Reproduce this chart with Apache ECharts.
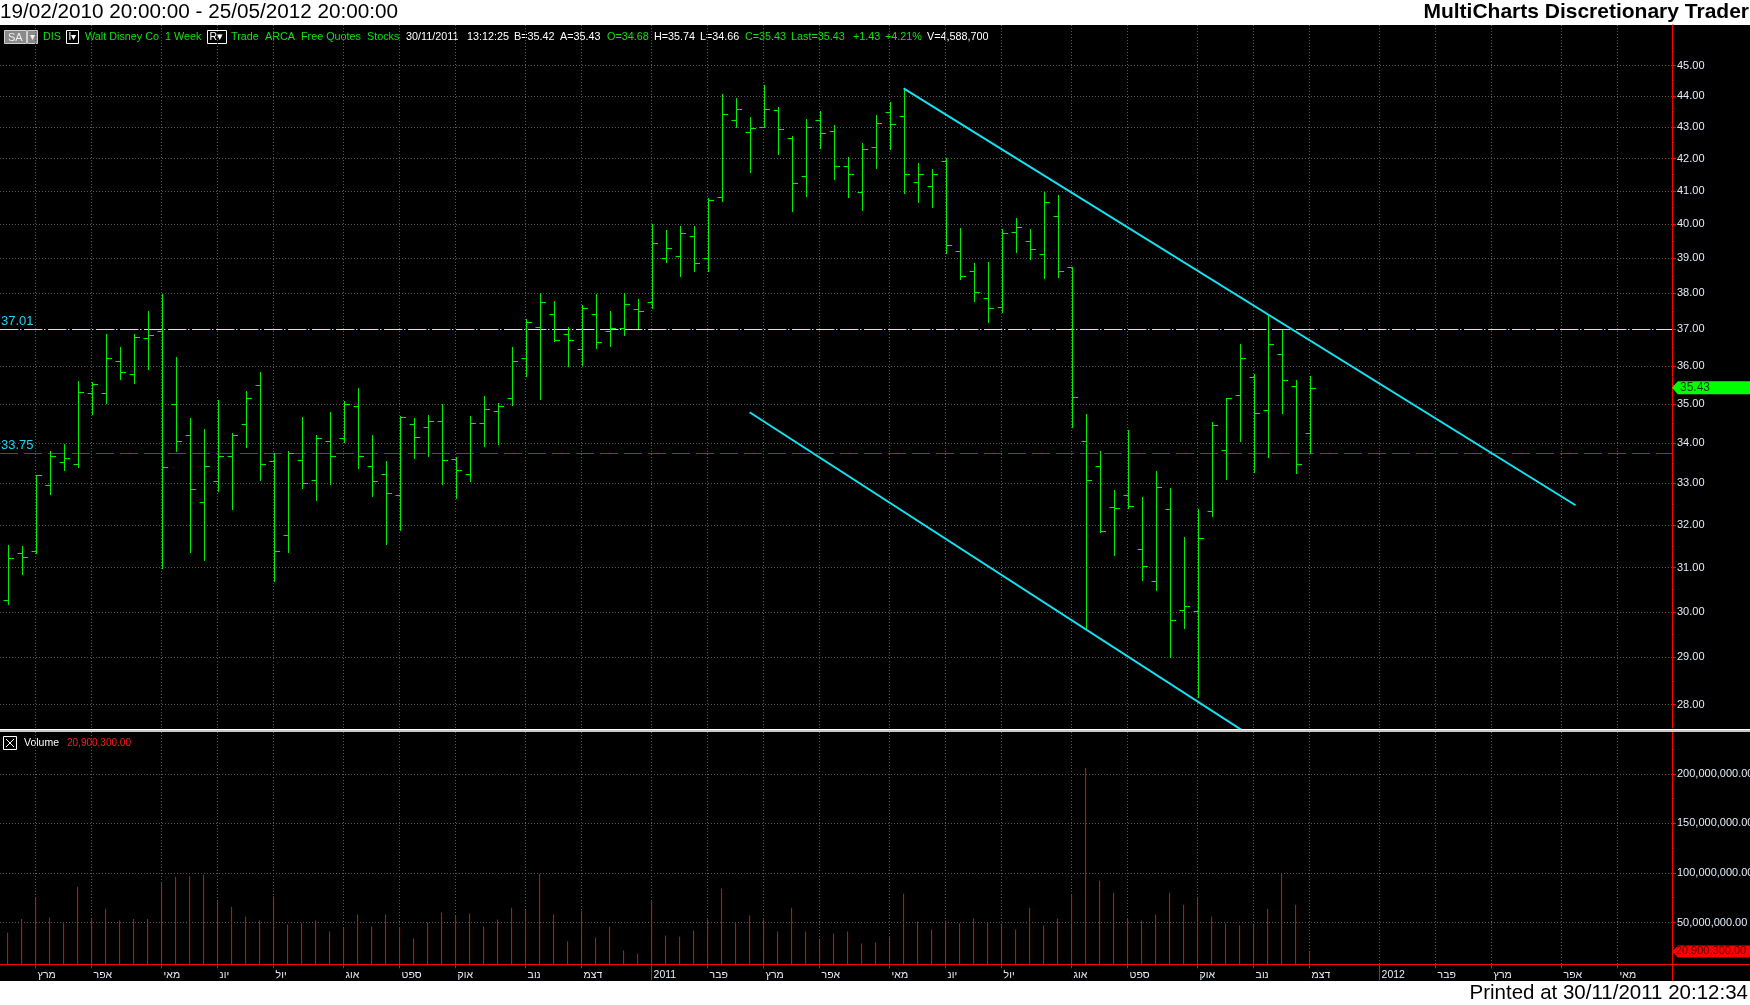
<!DOCTYPE html>
<html>
<head>
<meta charset="utf-8">
<script src="https://cdn.jsdelivr.net/npm/echarts@6/dist/echarts.min.js"></script>
<style>
html,body{margin:0;padding:0;background:#fff;}
#c{width:1750px;height:1005px;}
</style>
</head>
<body>
<div id="c"></div>
<script>
// ---------------- DATA ----------------
const weeks = ['2010-02-19','2010-02-26','2010-03-05','2010-03-12','2010-03-19','2010-03-26','2010-04-02','2010-04-09','2010-04-16','2010-04-23',
'2010-04-30','2010-05-07','2010-05-14','2010-05-21','2010-05-28','2010-06-04','2010-06-11','2010-06-18','2010-06-25','2010-07-02',
'2010-07-09','2010-07-16','2010-07-23','2010-07-30','2010-08-06','2010-08-13','2010-08-20','2010-08-27','2010-09-03','2010-09-10',
'2010-09-17','2010-09-24','2010-10-01','2010-10-08','2010-10-15','2010-10-22','2010-10-29','2010-11-05','2010-11-12','2010-11-19',
'2010-11-26','2010-12-03','2010-12-10','2010-12-17','2010-12-24','2010-12-31','2011-01-07','2011-01-14','2011-01-21','2011-01-28',
'2011-02-04','2011-02-11','2011-02-18','2011-02-25','2011-03-04','2011-03-11','2011-03-18','2011-03-25','2011-04-01','2011-04-08',
'2011-04-15','2011-04-22','2011-04-29','2011-05-06','2011-05-13','2011-05-20','2011-05-27','2011-06-03','2011-06-10','2011-06-17',
'2011-06-24','2011-07-01','2011-07-08','2011-07-15','2011-07-22','2011-07-29','2011-08-05','2011-08-12','2011-08-19','2011-08-26',
'2011-09-02','2011-09-09','2011-09-16','2011-09-23','2011-09-30','2011-10-07','2011-10-14','2011-10-21','2011-10-28','2011-11-04',
'2011-11-11','2011-11-18','2011-11-25','2011-12-02'];

const opens  = [30.26,31.33,31.38,32.95,33.52,33.47,35.28,35.28,36.13,35.78,36.75,36.95,35.00,34.20,32.54,33.05,33.69,34.48,35.50,33.56,
31.76,33.58,33.08,34.05,34.12,34.94,33.42,33.22,32.72,34.48,34.40,34.56,33.60,33.22,34.51,34.81,35.15,36.21,37.06,37.41,
36.86,36.45,37.41,36.95,37.03,37.55,37.75,39.00,39.06,39.64,39.02,40.82,43.21,42.83,43.00,43.55,42.64,41.45,43.21,42.88,
41.76,40.96,42.36,43.47,43.34,41.27,41.14,41.93,39.21,38.63,37.86,37.61,39.76,39.50,39.13,40.24,38.74,34.05,33.42,32.42,
32.72,31.44,30.69,32.37,30.05,30.02,32.34,33.82,35.23,35.70,34.85,36.32,35.48,34.25];
const highs  = [31.52,31.50,33.20,33.80,33.97,35.61,35.57,36.87,36.52,36.86,37.51,37.98,36.25,34.64,34.36,35.11,34.26,35.34,35.85,33.75,
33.80,34.67,34.21,34.80,35.09,35.42,34.21,33.56,34.69,34.64,34.72,35.00,33.66,34.69,35.21,35.02,36.52,37.28,38.01,37.79,
37.06,37.67,37.98,37.51,38.01,37.84,40.01,39.83,39.95,39.95,40.79,44.06,43.93,43.32,44.36,43.63,42.70,43.24,43.50,43.05,
42.04,42.48,43.38,43.80,44.25,41.85,41.67,42.01,39.89,38.88,38.90,39.85,40.19,39.86,40.97,40.89,38.74,34.75,33.80,32.84,
34.33,32.67,33.31,32.88,31.71,32.38,34.54,35.16,36.60,35.79,37.39,36.99,35.63,35.74];
const lows   = [30.17,30.85,31.33,32.75,33.34,33.41,34.75,35.04,35.67,35.56,35.93,30.98,33.81,31.37,31.18,32.82,32.39,33.91,33.09,30.70,
31.37,32.90,32.60,32.99,34.03,33.39,32.70,31.54,31.89,33.64,33.69,32.99,32.65,33.07,33.94,33.99,34.98,35.74,35.14,36.69,
36.00,36.02,36.50,36.55,36.84,37.04,37.59,38.90,38.50,38.65,38.65,40.70,42.99,41.59,43.00,42.15,40.41,40.86,42.33,41.38,
40.83,40.44,41.72,42.30,40.93,40.68,40.53,39.17,38.42,37.78,37.19,37.47,39.20,38.97,38.44,38.47,34.40,29.63,31.83,31.30,
32.40,30.71,30.49,29.01,29.65,28.17,32.22,33.12,34.06,33.28,33.65,34.78,33.26,33.75];
const closes = [31.22,31.24,33.20,33.67,33.62,35.31,35.54,36.21,35.84,36.78,36.84,33.40,34.05,32.86,33.42,33.67,34.22,35.15,33.47,31.38,
33.76,33.02,34.12,33.67,35.00,33.67,33.05,32.76,34.66,34.15,34.56,33.57,33.32,34.51,34.87,34.96,36.13,37.19,37.75,36.72,
36.70,37.58,36.64,37.05,37.69,37.50,39.44,39.29,39.73,38.86,40.72,43.41,43.57,42.95,43.57,42.92,41.24,42.99,42.80,41.76,
41.51,42.29,43.11,43.08,41.51,41.51,41.51,39.38,38.48,38.03,37.58,39.73,39.91,39.27,40.66,38.63,35.18,33.08,31.86,32.41,
32.45,31.03,32.91,29.81,30.14,31.68,34.46,35.16,36.21,34.77,36.59,35.63,33.49,35.43];
// weekly volume, millions of shares
const volumesM = [39.6,53.6,75.1,55.0,49.3,86.2,55.0,64.0,52.0,53.6,53.6,90.2,96.2,97.2,98.2,73.1,66.0,56.0,52.0,76.5,
48.0,49.6,52.0,40.9,44.9,58.0,45.9,58.0,44.9,33.9,50.0,60.0,57.0,59.0,45.9,53.0,65.0,63.0,99.2,58.0,
30.8,62.0,34.9,45.9,21.8,18.8,73.1,36.9,35.9,41.9,53.0,84.2,50.0,57.0,53.0,40.9,65.0,40.9,33.9,38.9,
40.9,28.8,29.8,34.9,79.1,51.0,42.9,52.0,49.0,54.0,50.0,49.0,42.9,65.0,46.9,54.0,79.1,205.9,92.2,80.1,
54.0,52.0,58.0,80.1,68.0,75.1,56.0,49.0,46.9,49.0,64.0,99.2,68.0,20.9003];

// trend lines [week index, price]
const upperTrend = [[64, 44.25], [112, 32.47]];
const lowerTrend = [[53, 34.79], [90, 27.14]];
const resistLevel = 37.01;
const supportLevel = 33.75;
const lastPrice = 35.43;
const lastVolumeM = 20.9003;

// axis ticks
const monthTickIdx = [2,6,11,15,19,24,28,32,37,41,46,50,54,58,63,67,71,76,80,85,89,93,98,102,106,111,115];
const monthLabels  = ['מרץ','אפר','מאי','יונ','יול','אוג','ספט','אוק','נוב','דצמ','2011','פבר','מרץ','אפר','מאי','יונ','יול','אוג','ספט','אוק','נוב','דצמ','2012','פבר','מרץ','אפר','מאי'];
const yearTickIdx  = [46, 98];
const priceTicks   = [28,29,30,31,32,33,34,35,36,37,38,39,40,41,42,43,44,45];
const priceMinorTicks = [28.5,29.5,30.5,31.5,32.5,33.5,34.5,35.5,36.5,37.5,38.5,39.5,40.5,41.5,42.5,43.5,44.5,45.5];
const volumeTicks  = [50,100,150,200];
const volumeMinorTicks = [25,75,125,175,225];

// ---------------- CHART ----------------
const FONT = "'Liberation Sans', Arial, sans-serif";
const GREEN = '#00ee00';
const CYAN = '#12e2f2';
const GRIDC = '#5a5a5a';
const LABELC = '#e4ecf8';
const X_MIN = -0.543, X_MAX = 118.886;
const P_MIN = 27.52, P_MAX = 46.38;
const V_MIN = 7.9, V_MAX = 242.1;

const ohlc = opens.map((o, i) => [i, o, highs[i], lows[i], closes[i]]);
const vol = volumesM.map((v, i) => [i, v]);

function renderOHLC(params, api) {
  const i = api.value(0);
  const pO = api.coord([i, api.value(1)]);
  const pH = api.coord([i, api.value(2)]);
  const pL = api.coord([i, api.value(3)]);
  const pC = api.coord([i, api.value(4)]);
  const x = Math.round(pO[0]) + 0.5;
  const yo = Math.round(pO[1]) + 0.5, yc = Math.round(pC[1]) + 0.5;
  const st = {stroke: GREEN, lineWidth: 1};
  return {type: 'group', children: [
    {type: 'line', shape: {x1: x, y1: Math.round(pH[1]), x2: x, y2: Math.round(pL[1]) + 1}, style: st},
    {type: 'line', shape: {x1: x - 5, y1: yo, x2: x, y2: yo}, style: st},
    {type: 'line', shape: {x1: x, y1: yc, x2: x + 5.5, y2: yc}, style: st}
  ]};
}

const infoItems = [
  ['DIS',43,'g'],['Walt Disney Co',85,'g'],['1 Week',165,'g'],['Trade',231,'g'],['ARCA',265,'g'],['Free Quotes',301,'g'],
  ['Stocks',367,'g'],['30/11/2011',406,'w'],['13:12:25',467,'w'],['B=35.42',514,'w'],['A=35.43',560,'w'],['O=34.68',607,'g'],
  ['H=35.74',654,'w'],['L=34.66',700,'w'],['C=35.43',745,'g'],['Last=35.43',791,'g'],['+1.43',853,'g'],['+4.21%',885,'g'],
  ['V=4,588,700',927,'w']
];

const graphic = [
  {type:'rect', shape:{x:0,y:0,width:1750,height:25}, style:{fill:'#fff'}, silent:true},
  {type:'rect', shape:{x:0,y:981,width:1750,height:24}, style:{fill:'#fff'}, silent:true},
  {type:'text', x:0, y:12.5, style:{text:'19/02/2010 20:00:00 - 25/05/2012 20:00:00', font:'20.7px '+FONT, fill:'#000', verticalAlign:'middle'}},
  {type:'text', x:1749, y:12.5, style:{text:'MultiCharts Discretionary Trader', font:'bold 21px '+FONT, fill:'#000', align:'right', verticalAlign:'middle'}},
  {type:'text', x:1748, y:993.5, style:{text:'Printed at 30/11/2011 20:12:34', font:'20.5px '+FONT, fill:'#000', align:'right', verticalAlign:'middle'}},
  {type:'rect', shape:{x:0,y:729,width:1750,height:3}, style:{fill:'#c8c8c8'}, z:50},
  {type:'line', shape:{x1:0,y1:729.5,x2:1750,y2:729.5}, style:{stroke:'#ffffff', lineWidth:1}, z:51},
  {type:'line', shape:{x1:1672.5,y1:964,x2:1672.5,y2:981}, style:{stroke:'#ff0000', lineWidth:1}},
  {type:'line', shape:{x1:1672,y1:964.5,x2:1750,y2:964.5}, style:{stroke:'#ff0000', lineWidth:1}},
  // info bar boxes
  {type:'rect', shape:{x:4.5,y:30.5,width:22,height:13}, style:{fill:'#8a8a8a', stroke:'#d0d0d0', lineWidth:1}},
  {type:'text', x:8, y:37.5, style:{text:'SA', font:'11px '+FONT, fill:'#f0f0f0', verticalAlign:'middle'}},
  {type:'rect', shape:{x:27.5,y:30.5,width:10,height:13}, style:{fill:'#8a8a8a', stroke:'#d0d0d0', lineWidth:1}},
  {type:'text', x:29.5, y:37.5, style:{text:'▾', font:'10px '+FONT, fill:'#f0f0f0', verticalAlign:'middle'}},
  {type:'rect', shape:{x:66.5,y:30.5,width:12,height:13}, style:{fill:'#000', stroke:'#ffffff', lineWidth:1}},
  {type:'text', x:68.5, y:37.5, style:{text:'I▾', font:'10px '+FONT, fill:'#ffffff', verticalAlign:'middle'}},
  {type:'rect', shape:{x:207.5,y:30.5,width:19,height:13}, style:{fill:'#000', stroke:'#ffffff', lineWidth:1}},
  {type:'text', x:209.5, y:37.5, style:{text:'R▾', font:'10.5px '+FONT, fill:'#ffffff', verticalAlign:'middle'}},
  // volume header
  {type:'rect', shape:{x:3.5,y:736.5,width:13,height:13}, style:{fill:'#000', stroke:'#ffffff', lineWidth:1}},
  {type:'line', shape:{x1:6,y1:739,x2:14,y2:747}, style:{stroke:'#ffffff', lineWidth:1}},
  {type:'line', shape:{x1:14,y1:739,x2:6,y2:747}, style:{stroke:'#ffffff', lineWidth:1}},
  {type:'text', x:24, y:743.5, style:{text:'Volume', font:'10.5px '+FONT, fill:'#ffffff', verticalAlign:'middle'}},
  {type:'text', x:67, y:743.5, style:{text:'20,900,300.00', font:'10px '+FONT, fill:'#ff1a1a', verticalAlign:'middle'}}
];
infoItems.forEach(([t, x, c]) => {
  graphic.push({type:'text', x:x, y:37.5, style:{text:t, font:'10.8px '+FONT, fill: c === 'g' ? '#12e012' : '#ffffff', verticalAlign:'middle'}});
});

const dotted = {show:true, lineStyle:{color:GRIDC, type:[1,2], width:1}};

const option = {
  backgroundColor: '#000',
  animation: false,
  textStyle: {fontFamily: FONT},
  grid: [
    {left:0, right:78, top:25, bottom:277, containLabel:false, outerBoundsMode:'none'},
    {left:0, right:78, top:732, bottom:40.7, containLabel:false, outerBoundsMode:'none'}
  ],
  xAxis: [
    {type:'value', gridIndex:0, min:X_MIN, max:X_MAX, position:'bottom',
     axisLine:{show:false, onZero:false}, axisTick:{show:false, customValues:monthTickIdx},
     axisLabel:{show:false}, splitLine:dotted},
    {type:'value', gridIndex:1, min:X_MIN, max:X_MAX, position:'bottom',
     axisLine:{show:true, onZero:false, lineStyle:{color:'#ff0000', width:1}},
     axisTick:{show:true, customValues:monthTickIdx, length:4, lineStyle:{color:'#ff0000'}},
     axisLabel:{show:true, customValues:monthTickIdx, align:'left', padding:[0,0,0,2], margin:5,
       color:LABELC, fontSize:10.5, fontFamily:FONT,
       formatter: v => { const k = monthTickIdx.indexOf(Math.round(v)); return k >= 0 ? monthLabels[k] : ''; }},
     splitLine:dotted},
    {type:'value', gridIndex:1, min:X_MIN, max:X_MAX, position:'bottom',
     axisLine:{show:false, onZero:false}, axisTick:{show:true, customValues:yearTickIdx, length:16, lineStyle:{color:'#ff0000'}},
     axisLabel:{show:false}, splitLine:{show:false}}
  ],
  yAxis: [
    {type:'log', gridIndex:0, min:P_MIN, max:P_MAX, position:'right',
     axisLine:{show:true, onZero:false, lineStyle:{color:'#ff0000', width:1}},
     axisTick:{show:true, length:4, customValues:priceTicks, lineStyle:{color:'#ff0000'}},
     axisLabel:{show:true, customValues:priceTicks, margin:5, color:LABELC, fontSize:11, fontFamily:FONT,
       formatter: v => Number(v).toFixed(2)},
     splitLine:dotted},
    {type:'log', gridIndex:0, min:P_MIN, max:P_MAX, position:'right',
     axisLine:{show:false, onZero:false}, axisTick:{show:true, length:2, customValues:priceMinorTicks, lineStyle:{color:'#ff0000'}},
     axisLabel:{show:false}, splitLine:{show:false}},
    {type:'value', gridIndex:1, min:V_MIN, max:V_MAX, position:'right',
     axisLine:{show:true, onZero:false, lineStyle:{color:'#ff0000', width:1}},
     axisTick:{show:true, length:4, customValues:volumeTicks, lineStyle:{color:'#ff0000'}},
     axisLabel:{show:true, customValues:volumeTicks, margin:5, color:LABELC, fontSize:11, fontFamily:FONT,
       formatter: v => (v * 1e6).toLocaleString('en-US', {minimumFractionDigits:2, maximumFractionDigits:2})},
     splitLine:dotted},
    {type:'value', gridIndex:1, min:V_MIN, max:V_MAX, position:'right',
     axisLine:{show:false, onZero:false}, axisTick:{show:true, length:2, customValues:volumeMinorTicks, lineStyle:{color:'#ff0000'}},
     axisLabel:{show:false}, splitLine:{show:false}}
  ],
  series: [
    {type:'custom', name:'DIS', xAxisIndex:0, yAxisIndex:0, data:ohlc, renderItem:renderOHLC,
     dimensions:['i','open','high','low','close'], encode:{x:0, y:[1,2,3,4]}, silent:true, z:5},
    {type:'line', name:'upper', xAxisIndex:0, yAxisIndex:0, data:upperTrend, showSymbol:false, symbol:'none',
     lineStyle:{color:CYAN, width:2}, silent:true, z:6, clip:true,
     markLine:{
       symbol:['none','none'], silent:true, animation:false,
       label:{show:true, position:'insideStartTop', color:'#1ed6ee', fontSize:13, fontFamily:FONT, distance:[1,1]},
       data:[
         {yAxis:resistLevel, lineStyle:{color:'#ffff00', type:[18,2,1,3], width:1}, label:{formatter:'37.01'}},
         {yAxis:supportLevel, lineStyle:{color:'#ff0000', type:[18,6], width:1}, label:{formatter:'33.75'}}
       ]
     },
     markPoint:{
       silent:true, animation:false,
       symbol:'path://M0,6L6,0L80,0L80,12L6,12Z', symbolSize:[78,13], symbolOffset:[39,0], symbolKeepAspect:false,
       itemStyle:{color:'#00ff00'},
       label:{show:true, position:'inside', color:'#0b3b0b', fontSize:12, fontFamily:FONT, offset:[-16,0]},
       data:[{coord:[X_MAX - 0.001, lastPrice], value:lastPrice, label:{formatter:'35.43'}}]
     }
    },
    {type:'line', name:'lower', xAxisIndex:0, yAxisIndex:0, data:lowerTrend, showSymbol:false, symbol:'none',
     lineStyle:{color:CYAN, width:2}, silent:true, z:6, clip:true},
    {type:'bar', name:'Volume', xAxisIndex:1, yAxisIndex:2, data:vol, barWidth:1,
     itemStyle:{color:'#ff0000'}, silent:true, clip:true,
     markPoint:{
       silent:true, animation:false,
       symbol:'path://M0,6L6,0L80,0L80,12L6,12Z', symbolSize:[78,12], symbolOffset:[39,0], symbolKeepAspect:false,
       itemStyle:{color:'#ff0000'},
       label:{show:true, position:'inside', color:'#5a0000', fontSize:11, fontFamily:FONT, offset:[0,0]},
       data:[{coord:[X_MAX - 0.001, lastVolumeM], value:lastVolumeM, label:{formatter:'20,900,300.00'}}]
     }
    }
  ],
  graphic: graphic
};

const chart = echarts.init(document.getElementById('c'), null, {renderer:'canvas'});
chart.setOption(option);
</script>
</body>
</html>
